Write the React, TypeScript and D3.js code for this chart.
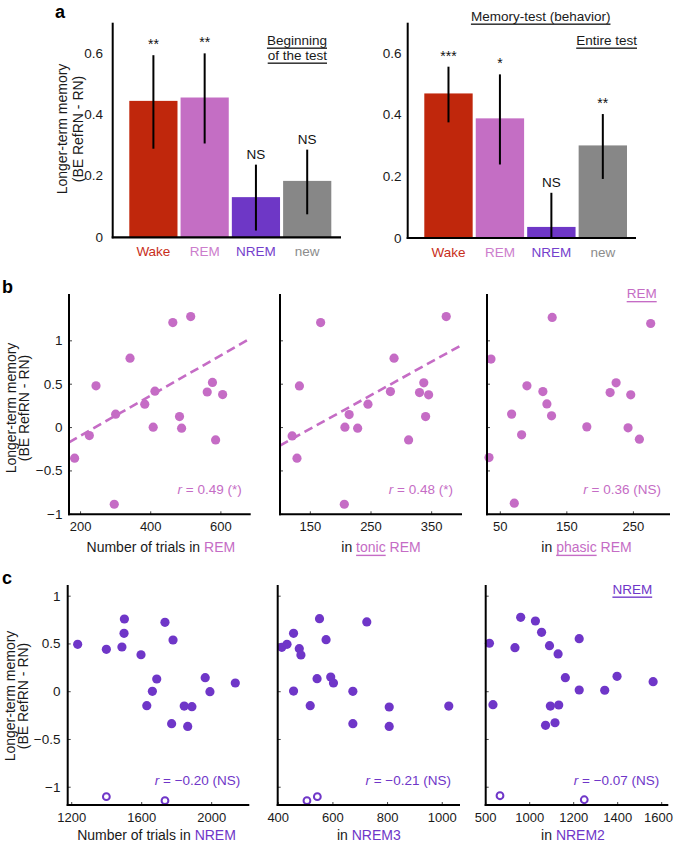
import React from 'react';
import * as d3 from 'd3';

const FONT = '"Liberation Sans", Arial, Helvetica, sans-serif';

// ---------- Panel a data ----------
const categories = ['Wake', 'REM', 'NREM', 'new'];
const barColors = ['#c0270c', '#c46ec4', '#6e37c6', '#878787'];
const catLabelColors = ['#c82e1a', '#cc7dcc', '#7440cc', '#8c8c8c'];

const beginMeans = [0.445, 0.456, 0.131, 0.184];
const beginErrLow = [0.289, 0.306, 0.022, 0.075];
const beginErrHigh = [0.594, 0.6, 0.237, 0.286];
const beginSig = ['**', '**', 'NS', 'NS'];

const entireMeans = [0.47, 0.389, 0.036, 0.301];
const entireErrLow = [0.376, 0.239, 0.0, 0.192];
const entireErrHigh = [0.557, 0.532, 0.147, 0.403];
const entireSig = ['***', '*', 'NS', '**'];

const barTicks = [0, 0.2, 0.4, 0.6];
const barTickLabels = ['0', '0.2', '0.4', '0.6'];

// ---------- Panel b data ----------
const remX = [183, 225, 244, 296, 300, 341, 383, 407, 412, 463, 482, 488, 514, 561, 576, 585, 605];
const remY = [-0.353, -0.092, 0.481, -0.884, 0.154, 0.8, 0.27, 0.005, 0.42, 1.21, 0.127, -0.007, 1.28, 0.41, 0.52, -0.142, 0.38];

const tonicX = [120, 128, 132, 167, 206, 207, 214, 228, 245, 282, 288, 312, 330, 337, 345, 340, 374];
const tonicY = [-0.096, -0.353, 0.48, 1.21, -0.884, 0.005, 0.15, -0.007, 0.27, 0.415, 0.8, -0.142, 0.404, 0.516, 0.377, 0.127, 1.28];

const phasicX = [36, 33, 71, 67, 82, 90, 114, 120, 127, 128, 180, 215, 224, 246, 242, 259, 276];
const phasicY = [0.79, -0.346, -0.872, 0.155, -0.084, 0.481, 0.415, 0.273, 0.135, 1.27, 0.008, 0.404, 0.516, 0.377, -0.003, -0.134, 1.2];

const remFitX = [167, 685];
const remFitY = [-0.17, 1.03];
const tonicFitX = [100, 400];
const tonicFitY = [-0.207, 0.954];

const bYTicks = [1, 0.5, 0, -0.5, -1];
const bYTickLabels = ['1', '0.5', '0', '\u22120.5', '\u22121'];
const remXTicks = [200, 400, 600];
const tonicXTicks = [150, 250, 350];
const phasicXTicks = [50, 150, 250];

// ---------- Panel c data ----------
const nremX = [1234, 1398, 1487, 1501, 1499, 1596, 1686, 1661, 1629, 1733, 1779, 1771, 1843, 1887, 1863, 1963, 1990, 2135];
const nremY = [0.496, 0.444, 0.468, 0.761, 0.611, 0.387, 0.133, 0.004, -0.146, 0.726, 0.541, -0.335, -0.15, -0.157, -0.363, 0.147, 0.0, 0.091];
const nremOutX = [1398, 1733];
const nremOutY = [-1.099, -1.141];

const nrem3X = [413, 432, 456, 456, 477, 483, 517, 542, 551, 575, 592, 602, 673, 673, 724, 806, 806, 1024];
const nrem3Y = [0.465, 0.496, 0.611, 0.007, 0.45, 0.384, -0.146, 0.136, 0.764, 0.545, 0.154, 0.091, 0.004, -0.335, 0.73, -0.16, -0.363, -0.15];
const nrem3OutX = [505, 543];
const nrem3OutY = [-1.141, -1.099];

const nrem2X = [817, 833, 933, 959, 1026, 1054, 1090, 1129, 1094, 1132, 1072, 1115, 1162, 1225, 1225, 1341, 1397, 1561];
const nrem2Y = [0.507, -0.136, 0.461, 0.779, 0.74, 0.622, 0.482, 0.395, -0.15, -0.139, -0.352, -0.325, 0.147, 0.555, 0.018, 0.015, 0.161, 0.105];
const nrem2OutX = [865, 1248];
const nrem2OutY = [-1.089, -1.131];

const cYTicks = [1, 0.5, 0, -0.5, -1];
const cYTickLabels = ['1', '0.5', '0', '\u22120.5', '\u22121'];
const nremXTicks = [1200, 1600, 2000];
const nrem3XTicks = [400, 600, 800, 1000];
const nrem2XTicks = [800, 1000, 1200, 1400, 1600];
const nrem2XTickLabels = ['500', '1000', '1200', '1400', '1600'];

const PINK = '#c56cc5';
const PURPLE = '#6f36c8';
const TXT = '#1a1a1a';

function BarPanel(props: any) {
  const { r0, r1, axisX, yTop, yBase, xEnd, means, lo, hi, sig, tickRight } = props;
  const x = d3.scaleBand<string>().domain(categories).range([r0, r1]).paddingInner(0.06).paddingOuter(0);
  const y = d3.scaleLinear().domain([0, 0.7]).range([yBase, yTop]);
  return (
    <g>
      {categories.map((c, i) => (
        <rect key={c} x={x(c)} y={y(means[i])} width={x.bandwidth()} height={y(0) - y(means[i])} fill={barColors[i]} />
      ))}
      {categories.map((c, i) => (
        <line key={'e' + c} x1={(x(c) as number) + x.bandwidth() / 2} x2={(x(c) as number) + x.bandwidth() / 2}
          y1={y(lo[i])} y2={y(hi[i])} stroke="#000" strokeWidth={2} />
      ))}
      {categories.map((c, i) => (
        <text key={'s' + c} x={(x(c) as number) + x.bandwidth() / 2} y={y(hi[i]) - 6} textAnchor="middle"
          fontSize={sig[i] === 'NS' ? 13.5 : 14} fill="#111">{sig[i]}</text>
      ))}
      <line x1={axisX} x2={axisX} y1={yTop} y2={yBase + 1} stroke="#000" strokeWidth={2} />
      <line x1={axisX - 1} x2={xEnd} y1={yBase} y2={yBase} stroke="#000" strokeWidth={2.2} />
      {barTicks.map((t, i) => (
        <text key={'t' + t} x={tickRight} y={y(t)} textAnchor="end" dominantBaseline="central" fontSize={13.5} fill={TXT}>{barTickLabels[i]}</text>
      ))}
      {categories.map((c, i) => (
        <text key={'l' + c} x={(x(c) as number) + x.bandwidth() / 2} y={yBase + 14.5} textAnchor="middle"
          dominantBaseline="central" fontSize={13.5} fill={catLabelColors[i]}>{c}</text>
      ))}
    </g>
  );
}

function Scatter(props: any) {
  const { xDomain, xRange, yScale, xs, ys, oxs, oys, color, xTicks, xTickLabels, yTicks, yTickLabels, fitX, fitY, rText, xLabelY, xTickY, tickLabelRight, lastTickEnd } = props;
  const x = d3.scaleLinear().domain(xDomain).range(xRange);
  const y = yScale;
  const [yb, yt] = y.range();
  const ax = xRange[0];
  return (
    <g>
      {xTicks.map((t: number) => (
        <line key={'xt' + t} x1={x(t)} x2={x(t)} y1={yb} y2={yb - 3} stroke="#444" strokeWidth={1} />
      ))}
      {yTicks.map((t: number) => (
        <line key={'yt' + t} x1={ax} x2={ax + 3} y1={y(t)} y2={y(t)} stroke="#444" strokeWidth={1} />
      ))}
      {fitX && (
        <line x1={x(fitX[0])} y1={y(fitY[0])} x2={x(fitX[1])} y2={y(fitY[1])} stroke={color}
          strokeWidth={2.6} strokeDasharray="9,5" />
      )}
      {xs.map((v: number, i: number) => (
        <circle key={'p' + i} cx={x(v)} cy={y(ys[i])} r={4.6} fill={color} />
      ))}
      {oxs && oxs.map((v: number, i: number) => (
        <circle key={'o' + i} cx={x(v)} cy={y(oys[i])} r={3.4} fill="#fff" stroke={color} strokeWidth={2} />
      ))}
      <line x1={ax} x2={ax} y1={yt} y2={yb + 1} stroke="#000" strokeWidth={2} />
      <line x1={ax - 1} x2={xRange[1]} y1={yb} y2={yb} stroke="#000" strokeWidth={2} />
      {xTicks.map((t: number, i: number) => {
        const isLast = lastTickEnd && i === xTicks.length - 1;
        return (
          <text key={'xl' + t} x={isLast ? lastTickEnd : x(t)} y={xTickY} textAnchor={isLast ? 'end' : 'middle'}
            dominantBaseline="central" fontSize={13} fill={TXT}>
            {xTickLabels ? xTickLabels[i] : String(t)}
          </text>
        );
      })}
      {yTickLabels && yTicks.map((t: number, i: number) => (
        <text key={'yl' + t} x={tickLabelRight} y={y(t)} textAnchor="end" dominantBaseline="central" fontSize={13.5} fill={TXT}>
          {yTickLabels[i]}
        </text>
      ))}
      <text x={xRange[1] - 9} y={rText.y} textAnchor="end" dominantBaseline="central" fontSize={13.5} fill={color}>
        <tspan fontStyle="italic">r</tspan>
        {' = ' + rText.t}
      </text>
      <text x={(xRange[0] + xRange[1]) / 2 + (props.labelShift || 0)} y={xLabelY} textAnchor="middle" dominantBaseline="central" fontSize={14} fill={TXT}>
        {props.xLabel}
      </text>
    </g>
  );
}

function YLabel({ x1, x2, cy }: any) {
  return (
    <g fontSize={14} fill={TXT}>
      <text transform={`translate(${x1},${cy}) rotate(-90)`} textAnchor="middle" dominantBaseline="central">Longer-term memory</text>
      <text transform={`translate(${x2},${cy}) rotate(-90)`} textAnchor="middle" dominantBaseline="central">(BE RefRN - RN)</text>
    </g>
  );
}

export default function App() {
  const yB = d3.scaleLinear().domain([-1, 1.54]).range([514.3, 294]);
  const yC = d3.scaleLinear().domain([-1.186, 1.117]).range([805, 585]);
  const ul = { textDecoration: 'underline' } as any;
  return (
    <svg width={675} height={842} style={{ position: 'absolute', left: 0, top: 0, background: '#fff' }} fontFamily={FONT}>
      {/* Panel a */}
      <text x={55} y={18} fontSize={18} fontWeight="bold" fill="#000">a</text>
      <YLabel x1={62} x2={77.5} cy={129} />
      <BarPanel r0={129.3} r1={331.3} axisX={112.7} yTop={22.7} yBase={237.3} xEnd={341}
        means={beginMeans} lo={beginErrLow} hi={beginErrHigh} sig={beginSig} tickRight={103} />
      <text x={327} y={40} textAnchor="end" dominantBaseline="central" fontSize={13.5} fill={TXT} style={ul}>Beginning</text>
      <text x={327} y={55} textAnchor="end" dominantBaseline="central" fontSize={13.5} fill={TXT} style={ul}>of the test</text>

      <BarPanel r0={424.3} r1={627} axisX={407.7} yTop={22.7} yBase={238} xEnd={636}
        means={entireMeans} lo={entireErrLow} hi={entireErrHigh} sig={entireSig} tickRight={401.5} />
      <text x={540.7} y={16} textAnchor="middle" dominantBaseline="central" fontSize={13.5} fill={TXT} style={ul}>Memory-test (behavior)</text>
      <text x={637} y={40} textAnchor="end" dominantBaseline="central" fontSize={13.5} fill={TXT} style={ul}>Entire test</text>

      {/* Panel b */}
      <text x={2} y={293} fontSize={18} fontWeight="bold" fill="#000">b</text>
      <YLabel x1={11} x2={24} cy={408} />
      <Scatter xDomain={[167, 685]} xRange={[69, 250.7]} yScale={yB} xs={remX} ys={remY} color={PINK}
        xTicks={remXTicks} yTicks={bYTicks} yTickLabels={bYTickLabels} tickLabelRight={62.5}
        fitX={remFitX} fitY={remFitY} rText={{ t: '0.49 (*)', y: 489 }} xTickY={526.7} xLabelY={546.7}
        labelShift={1}
        xLabel={<>Number of trials in <tspan fill={PINK}>REM</tspan></>} />
      <Scatter xDomain={[100, 400]} xRange={[280, 462]} yScale={yB} xs={tonicX} ys={tonicY} color={PINK}
        xTicks={tonicXTicks} yTicks={bYTicks} fitX={tonicFitX} fitY={tonicFitY}
        rText={{ t: '0.48 (*)', y: 489 }} xTickY={526.7} xLabelY={546.7} labelShift={10}
        xLabel={<>in <tspan fill={PINK} style={ul}>tonic</tspan><tspan fill={PINK}> REM</tspan></>} />
      <Scatter xDomain={[30, 305]} xRange={[487, 670]} yScale={yB} xs={phasicX} ys={phasicY} color={PINK}
        xTicks={phasicXTicks} yTicks={bYTicks}
        rText={{ t: '0.36 (NS)', y: 489 }} xTickY={526.7} xLabelY={546.7} labelShift={8}
        xLabel={<>in <tspan fill={PINK} style={ul}>phasic</tspan><tspan fill={PINK}> REM</tspan></>} />
      <text x={641.7} y={293.5} textAnchor="middle" dominantBaseline="central" fontSize={13.5} fill={PINK} style={ul}>REM</text>

      {/* Panel c */}
      <text x={2} y={584} fontSize={18} fontWeight="bold" fill="#000">c</text>
      <YLabel x1={10} x2={23} cy={696} />
      <Scatter xDomain={[1177, 2215]} xRange={[67.7, 249.3]} yScale={yC} xs={nremX} ys={nremY} oxs={nremOutX} oys={nremOutY}
        color={PURPLE} xTicks={nremXTicks} yTicks={cYTicks} yTickLabels={cYTickLabels} tickLabelRight={60.5}
        rText={{ t: '\u22120.20 (NS)', y: 780 }} xTickY={817.5} xLabelY={835} labelShift={-2}
        xLabel={<>Number of trials in <tspan fill={PURPLE}>NREM</tspan></>} />
      <Scatter xDomain={[398, 1065]} xRange={[277.7, 460]} yScale={yC} xs={nrem3X} ys={nrem3Y} oxs={nrem3OutX} oys={nrem3OutY}
        color={PURPLE} xTicks={nrem3XTicks} yTicks={cYTicks}
        rText={{ t: '\u22120.21 (NS)', y: 780 }} xTickY={817.5} xLabelY={835} labelShift={0}
        xLabel={<>in <tspan fill={PURPLE}>NREM3</tspan></>} />
      <Scatter xDomain={[800, 1630]} xRange={[485.7, 668.3]} yScale={yC} xs={nrem2X} ys={nrem2Y} oxs={nrem2OutX} oys={nrem2OutY}
        color={PURPLE} xTicks={nrem2XTicks} xTickLabels={nrem2XTickLabels} yTicks={cYTicks} lastTickEnd={673}
        rText={{ t: '\u22120.07 (NS)', y: 780 }} xTickY={817.5} xLabelY={835} labelShift={-4}
        xLabel={<>in <tspan fill={PURPLE}>NREM2</tspan></>} />
      <text x={632.3} y={589} textAnchor="middle" dominantBaseline="central" fontSize={13.5} fill={PURPLE} style={ul}>NREM</text>
    </svg>
  );
}
